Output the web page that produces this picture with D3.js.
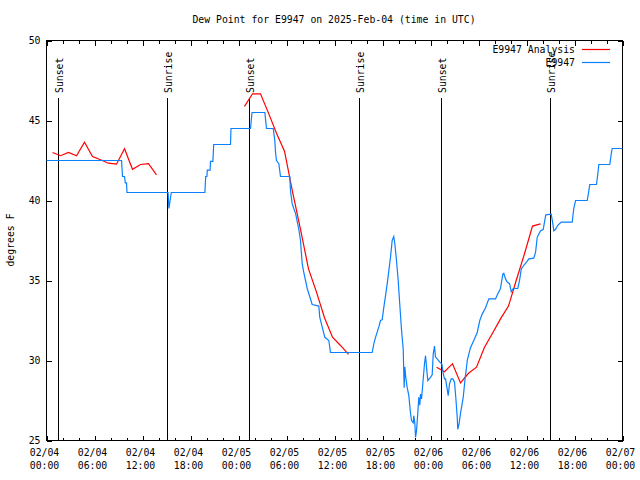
<!DOCTYPE html>
<html><head><meta charset="utf-8">
<script src="https://cdn.jsdelivr.net/npm/d3@7"></script>
<style>
body{margin:0;background:#fff}
text{font-family:"DejaVu Sans Mono",monospace;font-size:9.8px;fill:#000}
</style>
</head><body>
<svg id="chart" width="640" height="480"></svg>
<script>
// ---------------- data ----------------
const chartTitle = "Dew Point for E9947 on 2025-Feb-04 (time in UTC)";
const yAxisLabel = "degrees F";
const startUTC = Date.UTC(2025, 1, 4, 0, 0);          // 02/04 00:00 UTC
const xMajorHours = [0, 6, 12, 18, 24, 30, 36, 42, 48, 54, 60, 66, 72];
const xMinorHours = d3.range(0, 73, 2);
const yTicks = [25, 30, 35, 40, 45, 50];
const seriesNames = ["E9947 Analysis", "E9947"];

const sunLabels = ["Sunset", "Sunrise", "Sunset", "Sunrise", "Sunset", "Sunrise"];
const sunHours  = [1.5, 15.125, 25.375, 39.125, 49.375, 63.0];

// hourly analysis (null = gap)
const analysisHours = [0.75,1.75,2.75,3.75,4.75,5.75,6.75,7.75,8.75,9.75,10.75,11.75,12.75,13.75,
  14.75,
  24.75,25.75,26.75,27.75,28.75,29.75,30.75,31.75,32.75,33.75,34.75,35.75,36.75,37.75,
  38.75,
  48.75,49.75,50.75,51.75,52.75,53.75,54.75,55.75,56.75,57.75,58.75,59.75,60.75,61.75];
const analysisValues = [43.0,42.8,43.0,42.8,43.65,42.75,42.55,42.33,42.27,43.23,41.95,42.25,42.3,41.6,
  null,
  45.88,46.67,46.67,45.46,44.2,43.08,40.55,38.2,35.73,34.27,32.67,31.46,30.94,30.38,
  null,
  29.58,29.3,29.8,28.6,29.2,29.58,30.83,31.7,32.6,33.4,35.06,36.67,38.4,38.54];

// station observations
const obsHours = [0,9.38,9.5,9.75,9.85,10.0,10.06,15.2,15.3,15.45,15.6,19.8,19.9,20.05,20.1,20.45,20.5,20.8,20.9,23.0,23.06,25.5,25.69,27.29,27.5,28.34,28.54,28.63,28.75,29.04,29.25,30.41,30.5,30.71,30.91,31.13,31.54,31.75,31.96,32.16,32.59,33.21,34.04,34.16,34.46,34.79,35.29,35.5,
  40.71,40.92,41.13,41.54,41.75,41.96,42.16,42.38,42.59,42.79,43.0,43.21,43.41,43.54,43.75,43.96,44.16,44.38,44.59,44.66,44.71,44.79,44.91,45.09,45.29,45.5,45.63,45.84,45.91,46.04,46.13,46.25,46.41,46.54,46.66,46.75,46.88,47.04,47.25,47.38,47.5,47.66,48.0,48.21,48.34,48.5,48.63,48.84,49.16,49.41,
  49.59,49.75,49.88,50.09,50.21,50.38,50.59,50.79,51.0,51.16,51.34,51.41,51.59,51.75,51.96,52.09,52.21,52.34,52.46,52.59,52.79,53.0,53.41,53.84,54.16,54.46,54.88,55.29,56.13,56.34,56.75,57.04,57.16,57.38,57.59,57.88,58.09,58.34,58.91,59.13,59.34,59.66,60.0,60.29,60.91,61.13,61.34,61.54,61.75,62.09,62.25,62.41,63.09,63.29,63.41,63.63,63.91,64.34,65.71,65.91,66.13,67.59,67.79,67.91,68.75,68.91,69.04,70.41,70.59,70.71,72.0];
const obsValues = [42.5,42.5,41.5,41.5,41.1,41.1,40.5,40.5,39.5,40.0,40.5,40.5,41.5,41.5,41.9,41.9,42.45,42.45,43.5,43.5,44.5,44.5,45.5,45.5,44.5,44.5,43.75,43.0,42.5,42.3,41.5,41.5,40.6,39.8,39.5,39.2,38.2,37.5,36.05,35.5,34.5,33.5,33.4,32.7,32.1,31.45,31.25,30.5,
  30.5,31.05,31.45,32.1,32.5,32.55,33.3,34.05,34.8,35.6,36.45,37.5,37.75,37.3,36.25,35.0,33.5,31.9,30.7,29.2,28.3,29.6,28.95,28.3,27.8,26.7,26.25,26.1,26.55,26.1,25.2,25.6,26.7,27.7,27.2,27.9,27.6,28.55,29.8,30.3,29.6,28.75,28.95,29.1,30.4,30.9,30.2,30.1,29.9,29.8,
  29.2,28.85,28.85,28.2,27.8,28.55,28.85,28.85,28.65,27.7,26.45,25.7,26.1,26.7,27.3,27.7,28.3,28.95,29.4,30.0,30.4,30.8,31.25,31.75,32.5,32.9,33.3,33.85,33.85,34.1,34.5,35.4,35.45,35.1,34.9,34.8,34.3,34.5,34.5,35.0,35.7,35.95,36.15,36.35,36.4,36.75,37.7,37.9,38.1,38.2,38.65,39.1,39.15,38.55,38.1,38.2,38.45,38.65,38.65,39.5,40.0,40.0,40.6,41.0,41.0,41.65,42.25,42.25,42.9,43.25,43.25];

// ---------------- drawing ----------------
const toDate = h => new Date(startUTC + h * 3600e3);
const svg = d3.select("#chart");
const L = 46.5, R = 622.5, T = 40.5, B = 440.5;

const x = d3.scaleUtc().domain([toDate(0), toDate(72)]).range([L, R]);
const y = d3.scaleLinear().domain([25, 50]).range([B, T]);

const fmtDay = d3.utcFormat("%m/%d"), fmtTime = d3.utcFormat("%H:%M");

// ticks (inward, all four sides)
const majorDates = xMajorHours.map(toDate);
const minorDates = xMinorHours.filter(h => h % 6 !== 0).map(toDate);
function xAxisGroup(ty, dir) {
  const gMaj = svg.append("g").attr("transform", `translate(0,${ty})`)
    .call((dir > 0 ? d3.axisBottom(x) : d3.axisTop(x)).tickValues(majorDates).tickSizeInner(-5).tickSizeOuter(0).tickFormat(""));
  const gMin = svg.append("g").attr("transform", `translate(0,${ty})`)
    .call((dir > 0 ? d3.axisBottom(x) : d3.axisTop(x)).tickValues(minorDates).tickSizeInner(-3).tickSizeOuter(0).tickFormat(""));
  [gMaj, gMin].forEach(g => { g.select(".domain").remove(); g.selectAll("line").attr("stroke", "#000").attr("shape-rendering", "crispEdges"); });
}
xAxisGroup(B, 1);
xAxisGroup(T, -1);

const gyL = svg.append("g").attr("transform", `translate(${L},0)`)
  .call(d3.axisLeft(y).tickValues(yTicks).tickSizeInner(-5).tickSizeOuter(0).tickPadding(10).tickFormat(d3.format("d")));
gyL.select(".domain").remove();
gyL.selectAll("line").attr("stroke", "#000").attr("shape-rendering", "crispEdges");
gyL.selectAll("text").attr("font-family", null).attr("font-size", null).attr("fill", "#000").attr("x", -6).attr("dy", "0.35em");
gyL.attr("font-family", null).attr("font-size", null);

const gyR = svg.append("g").attr("transform", `translate(${R},0)`)
  .call(d3.axisRight(y).tickValues(yTicks).tickSizeInner(-5).tickSizeOuter(0).tickFormat(""));
gyR.select(".domain").remove();
gyR.selectAll("line").attr("stroke", "#000").attr("shape-rendering", "crispEdges");

// x tick labels, two lines
const xl = svg.append("g");
majorDates.forEach(d => {
  const t = xl.append("text").attr("text-anchor", "middle");
  t.append("tspan").attr("x", x(d) - 2).attr("y", 456).text(fmtDay(d));
  t.append("tspan").attr("x", x(d) - 2).attr("y", 469).text(fmtTime(d));
});

// border
svg.append("rect").attr("x", L).attr("y", T).attr("width", R - L).attr("height", B - T)
  .attr("fill", "none").attr("stroke", "#000").attr("shape-rendering", "crispEdges");

// sunrise / sunset lines
sunHours.forEach((h, i) => {
  const xx = Math.round(x(toDate(h)) - 0.5) + 0.5;
  svg.append("line").attr("x1", xx).attr("x2", xx).attr("y1", 98).attr("y2", B)
    .attr("stroke", "#000").attr("shape-rendering", "crispEdges");
  svg.append("text").attr("transform", `translate(${xx + 0.5},93) rotate(-90)`)
    .attr("dominant-baseline", "central").attr("text-anchor", "start").text(sunLabels[i]);
});

// analysis line
const analysis = analysisHours.map((h, i) => ({ t: toDate(h), v: analysisValues[i] }));
const obs = obsHours.map((h, i) => ({ t: toDate(h), v: obsValues[i] }));
const line = d3.line().defined(d => d.v != null).x(d => x(d.t)).y(d => y(d.v));

svg.append("path").datum(analysis).attr("d", line).attr("fill", "none")
  .attr("stroke", "#ff0000").attr("stroke-width", 1.2);
svg.append("path").datum(obs).attr("d", line).attr("fill", "none")
  .attr("stroke", "#0a80ff").attr("stroke-width", 1.2);

// legend
const legendColors = ["#ff0000", "#0a80ff"];
seriesNames.forEach((n, i) => {
  const ly = 49.5 + i * 13;
  svg.append("text").attr("x", 575).attr("y", ly).attr("dy", "0.35em").attr("text-anchor", "end").text(n);
  svg.append("line").attr("x1", 582).attr("x2", 610).attr("y1", ly).attr("y2", ly)
    .attr("stroke", legendColors[i]).attr("stroke-width", 1.2);
});

// title and y label
svg.append("text").attr("x", 334).attr("y", 20).attr("dy", "0.35em").attr("text-anchor", "middle").text(chartTitle);
svg.append("text").attr("transform", "translate(11,240) rotate(-90)").attr("dy", "0.35em")
  .attr("text-anchor", "middle").text(yAxisLabel);
</script>
</body></html>
